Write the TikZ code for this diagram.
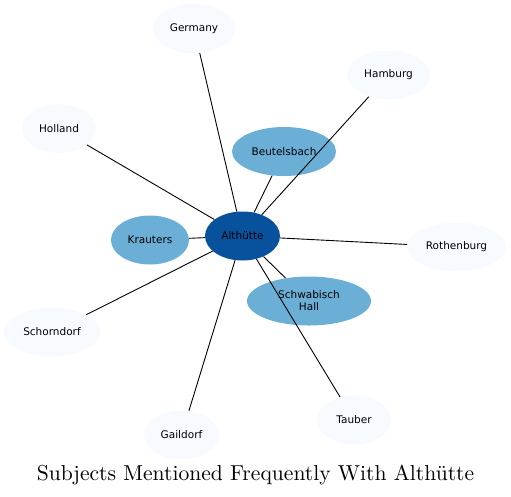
\documentclass[tikz,border=0pt]{standalone}
\usepackage{fontspec}
\newfontfamily\labelfont{DejaVu Sans}
\newfontfamily\titlefont{lmroman10-regular.otf}
\usetikzlibrary{shapes.geometric}
\definecolor{palefill}{HTML}{F7FBFF}
\definecolor{midfill}{HTML}{6BAED6}
\definecolor{darkfill}{HTML}{08519C}
\begin{document}
\begin{tikzpicture}[x=1pt,y=-1pt,
  topic/.style={ellipse,fill=palefill,inner sep=0pt,minimum height=49,
    align=center,font=\labelfont\fontsize{10.5}{12}\selectfont},
  near/.style={topic,fill=midfill},
  hub/.style={topic,fill=darkfill},
  link/.style={line width=0.9pt}]
  \useasboundingbox (0,0) rectangle (511,496);
  % centre and close subjects
  \node[hub,minimum width=75] (alt) at (242.5,236) {Althütte};
  \node[near,minimum width=104] (beutelsbach) at (284,151.5) {Beutelsbach};
  \node[near,minimum width=78] (krauters) at (150,240) {Krauters};
  \node[near,minimum width=124] (hall) at (309,301) {Schwabisch\\Hall};
  % outer ring
  \node[topic,minimum width=82] (germany) at (194,28.5) {Germany};
  \node[topic,minimum width=83] (hamburg) at (388.5,75) {Hamburg};
  \node[topic,minimum width=74] (holland) at (59,128.5) {Holland};
  \node[topic,minimum width=99] (rothenburg) at (456.5,247) {Rothenburg};
  \node[topic,minimum width=96] (schorndorf) at (52,332) {Schorndorf};
  \node[topic,minimum width=75] (gaildorf) at (181.5,435) {Gaildorf};
  \node[topic,minimum width=74] (tauber) at (354,420) {Tauber};
  \foreach \t in {beutelsbach,krauters,hall,germany,hamburg,holland,
                  rothenburg,schorndorf,gaildorf,tauber}{
    \draw[link] (alt) -- (\t);
  }
  \node[font=\titlefont\fontsize{21.6}{26}\selectfont,anchor=base] (title) at (255.5,480)
    {Subjects Mentioned Frequently With Althütte};
\end{tikzpicture}
\end{document}
